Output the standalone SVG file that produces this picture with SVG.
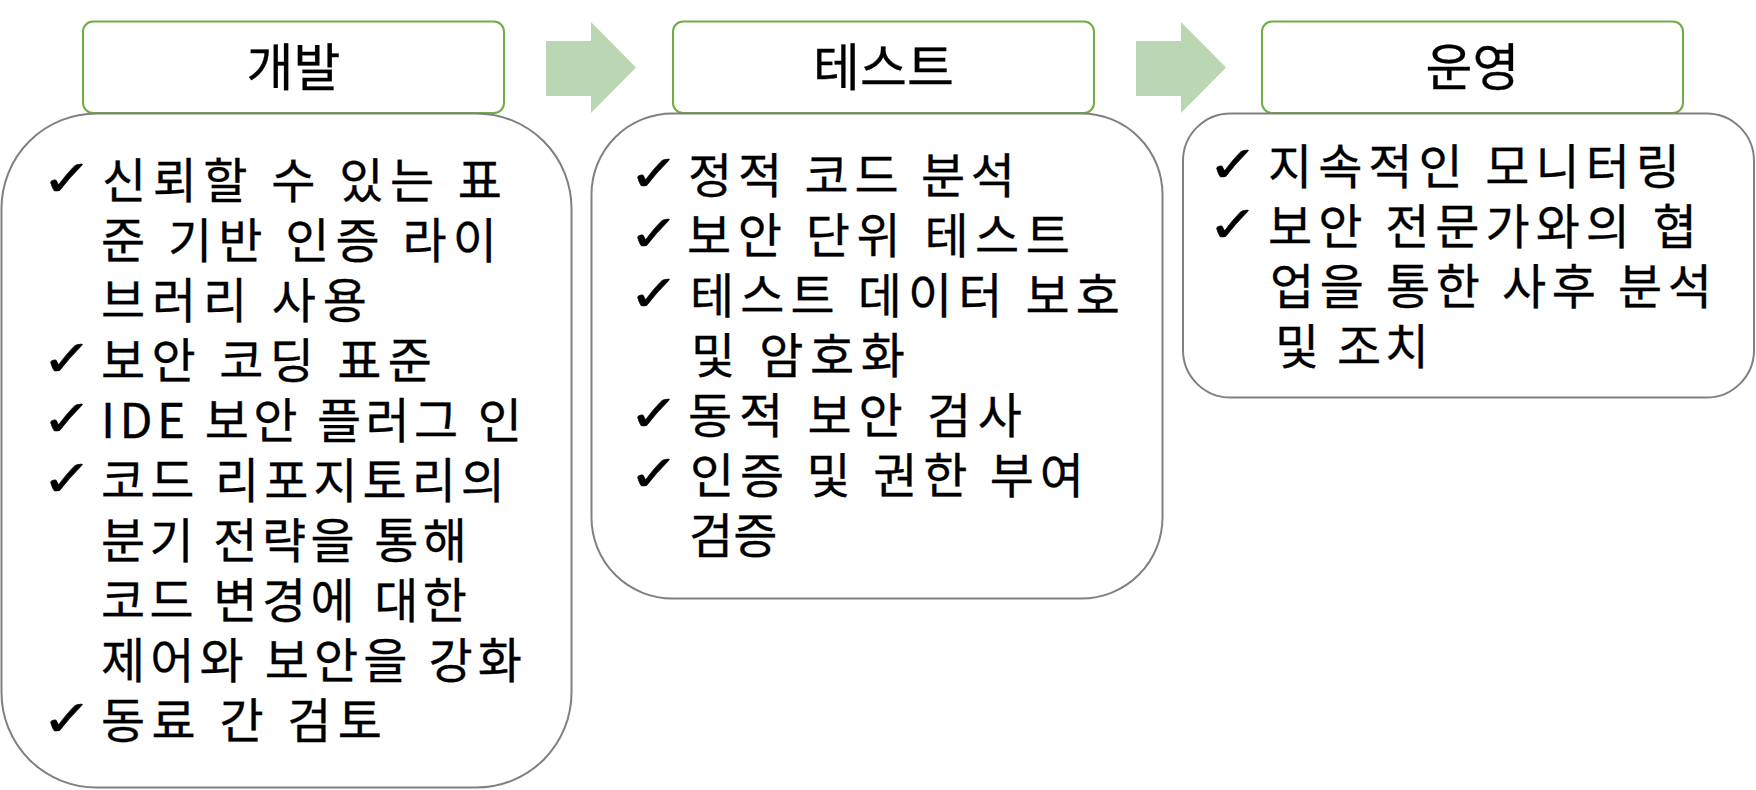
<svg xmlns="http://www.w3.org/2000/svg" width="1756" height="790" viewBox="0 0 1756 790">
<style>
.hdr{fill:#FFFFFF;stroke:#70AD47;stroke-width:2}
.box{fill:#FFFFFF;stroke:#808080;stroke-width:2}
.arrow{fill:#BBD6B3;stroke:none}
.ht{font-family:"Noto Sans CJK KR","Noto Sans",sans-serif;font-size:51px;fill:#000000;stroke:#000000;stroke-width:0.3;text-anchor:middle}
.bt{font-family:"Noto Sans CJK KR","Noto Sans",sans-serif;font-size:48px;fill:#000000;stroke:#000000;stroke-width:0.3}
.ck{font-family:"DejaVu Sans",sans-serif;font-size:51px;fill:#000000;stroke:#000000;stroke-width:0.5}
</style>
<rect width="1756" height="790" fill="#FFFFFF"/>
<g id="connectors">
<polygon class="arrow" points="546,41 591,41 591,22 636,67.5 591,113 591,96 546,96"/>
<polygon class="arrow" points="1136,41 1181,41 1181,22 1226,67.5 1181,113 1181,96 1136,96"/>
</g>
<g id="dev-header">
<rect class="hdr" x="83" y="21.5" width="421" height="91.5" rx="10"/>
<text class="ht" x="293.5" y="86">개발</text>
</g>
<g id="test-header">
<rect class="hdr" x="673" y="21.5" width="421" height="91.5" rx="10"/>
<text class="ht" x="883.5" y="86">테스트</text>
</g>
<g id="ops-header">
<rect class="hdr" x="1262" y="21.5" width="421" height="91.5" rx="10"/>
<text class="ht" x="1472.5" y="86">운영</text>
</g>
<g id="dev-body">
<rect class="box" x="1.5" y="113.5" width="570" height="674" rx="95"/>
<text class="ck" transform="translate(41.5,196) scale(1.2,1)">✓</text>
<text class="ck" transform="translate(41.5,376) scale(1.2,1)">✓</text>
<text class="ck" transform="translate(41.5,436) scale(1.2,1)">✓</text>
<text class="ck" transform="translate(41.5,496) scale(1.2,1)">✓</text>
<text class="ck" transform="translate(41.5,736) scale(1.2,1)">✓</text>
<text class="bt"><tspan x="102" y="198" textLength="400" lengthAdjust="spacing">신뢰할 수 있는 표</tspan><tspan x="101" y="258" textLength="396" lengthAdjust="spacing">준 기반 인증 라이</tspan><tspan x="101" y="318" textLength="266" lengthAdjust="spacing">브러리 사용</tspan><tspan x="101" y="378" textLength="331" lengthAdjust="spacing">보안 코딩 표준</tspan><tspan x="101" y="438" textLength="421" lengthAdjust="spacing">IDE 보안 플러그 인</tspan><tspan x="101" y="498" textLength="404" lengthAdjust="spacing">코드 리포지토리의</tspan><tspan x="101" y="558" textLength="366" lengthAdjust="spacing">분기 전략을 통해</tspan><tspan x="101" y="618" textLength="366" lengthAdjust="spacing">코드 변경에 대한</tspan><tspan x="101" y="678" textLength="421" lengthAdjust="spacing">제어와 보안을 강화</tspan><tspan x="101" y="738" textLength="281" lengthAdjust="spacing">동료 간 검토</tspan></text>
</g>
<g id="test-body">
<rect class="box" x="591.5" y="113.5" width="571" height="485" rx="81"/>
<text class="ck" transform="translate(628.5,191) scale(1.2,1)">✓</text>
<text class="ck" transform="translate(628.5,251) scale(1.2,1)">✓</text>
<text class="ck" transform="translate(628.5,311) scale(1.2,1)">✓</text>
<text class="ck" transform="translate(628.5,431) scale(1.2,1)">✓</text>
<text class="ck" transform="translate(628.5,491) scale(1.2,1)">✓</text>
<text class="bt"><tspan x="688" y="193" textLength="327" lengthAdjust="spacing">정적 코드 분석</tspan><tspan x="687" y="253" textLength="383" lengthAdjust="spacing">보안 단위 테스트</tspan><tspan x="690" y="313" textLength="430" lengthAdjust="spacing">테스트 데이터 보호</tspan><tspan x="691" y="373" textLength="214" lengthAdjust="spacing">및 암호화</tspan><tspan x="688" y="433" textLength="334" lengthAdjust="spacing">동적 보안 검사</tspan><tspan x="690" y="493" textLength="394" lengthAdjust="spacing">인증 및 권한 부여</tspan><tspan x="689" y="553">검증</tspan></text>
</g>
<g id="ops-body">
<rect class="box" x="1183" y="113.5" width="571" height="284" rx="47.5"/>
<text class="ck" transform="translate(1207.5,182) scale(1.2,1)">✓</text>
<text class="ck" transform="translate(1207.5,242) scale(1.2,1)">✓</text>
<text class="bt"><tspan x="1268" y="184" textLength="412" lengthAdjust="spacing">지속적인 모니터링</tspan><tspan x="1268" y="244" textLength="429" lengthAdjust="spacing">보안 전문가와의 협</tspan><tspan x="1270" y="304" textLength="442" lengthAdjust="spacing">업을 통한 사후 분석</tspan><tspan x="1275" y="364" textLength="154" lengthAdjust="spacing">및 조치</tspan></text>
</g>
</svg>
